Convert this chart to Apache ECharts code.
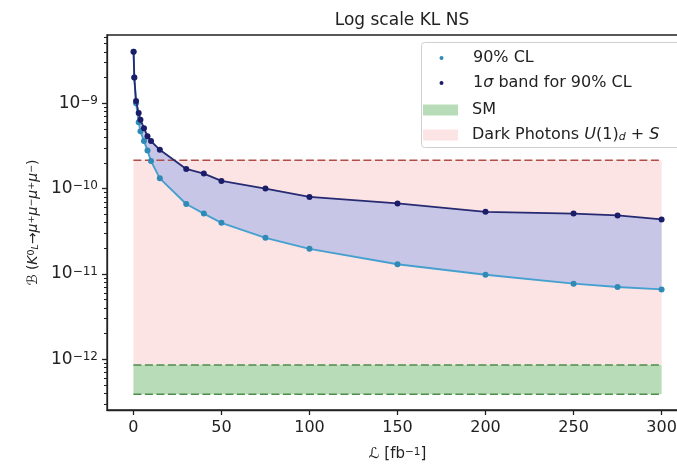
<!DOCTYPE html>
<html>
<head>
<meta charset="utf-8">
<script src="https://cdn.jsdelivr.net/npm/echarts@6/dist/echarts.min.js"></script>
<style>html,body{margin:0;padding:0;background:#fff;}#c{width:677px;height:468px;}</style>
</head>
<body>
<div id="c"></div>
<script>
// ---- data ----
const luminosity = [0.1, 0.5, 1.5, 3, 4, 6, 8, 10, 15, 30, 40, 50, 75, 100, 150, 200, 250, 275, 300];
const cl90 = [4.0e-9, 2.0e-9, 1.0e-9, 6.0e-10, 4.7e-10, 3.6e-10, 2.8e-10, 2.1e-10, 1.32e-10, 6.6e-11, 5.1e-11, 3.97e-11, 2.65e-11, 1.97e-11, 1.3e-11, 9.8e-12, 7.7e-12, 7.05e-12, 6.6e-12];
const band1sigma = [4.0e-9, 2.0e-9, 1.06e-9, 7.7e-10, 6.4e-10, 5.1e-10, 4.1e-10, 3.6e-10, 2.85e-10, 1.7e-10, 1.5e-10, 1.23e-10, 1.0e-10, 8.0e-11, 6.7e-11, 5.35e-11, 5.1e-11, 4.85e-11, 4.35e-11];
const regionX = [0, 300];
const darkPhotonTop = 2.15e-10;
const smTop = 8.6e-13;
const smBottom = 3.9e-13;
const xTicks = [0, 50, 100, 150, 200, 250, 300];
const yTicks = [1e-12, 1e-11, 1e-10, 1e-9];
const xRange = [-15, 315];
const yRange = [2.55e-13, 6.3e-9];
const yMinorTicks = [];
for (let e = -13; e <= -9; e++) for (let m = 2; m <= 9; m++) {
  const v = m * Math.pow(10, e);
  if (v > yRange[0] && v < yRange[1]) yMinorTicks.push(v);
}
const NAME_CL = '90% CL';
const NAME_BAND = '1σ band for 90% CL';
const NAME_SM = 'SM';
const NAME_DP = 'Dark Photons U(1)_d + S';

// ---- styles ----
const FONT = 'DejaVu Sans';
const TXT = '#222';
const cPink = '#fde4e4';
const cGreen = '#b8dcb8';
const cBand = '#c8c6e6';
const cRedDash = '#b24c48';
const cGreenDash = '#4c8c4c';
const cLowLine = '#46a0cf';
const cLowDot = '#2f8bb6';
const cUpLine = '#262a72';
const cUpDot = '#1b1d68';

const pair = (xs, ys) => xs.map((x, i) => [x, ys[i]]);

function rectRender(x0, x1, y0, y1, color) {
  return function (params, api) {
    const a = api.coord([x0, y1]);
    const b = api.coord([x1, y0]);
    return { type: 'rect', shape: { x: a[0], y: a[1], width: b[0] - a[0], height: b[1] - a[1] }, style: { fill: color } };
  };
}

const legendRich = {
  g: { width: 9, fontSize: 16 },
  i: { fontFamily: FONT, fontSize: 16, fontStyle: 'italic', color: TXT },
  n: { fontFamily: FONT, fontSize: 16, color: TXT },
  u: { fontFamily: FONT, fontSize: 11, fontStyle: 'italic', verticalAlign: 'bottom', color: TXT }
};

const chart = echarts.init(document.getElementById('c'), null, { renderer: 'canvas' });
chart.setOption({
  animation: false,
  backgroundColor: '#fff',
  textStyle: { fontFamily: FONT, color: TXT },
  title: {
    text: 'Log scale KL NS', left: 397, top: 7, textAlign: 'center',
    textStyle: { fontFamily: FONT, fontSize: 17, fontWeight: 'normal', color: TXT }
  },
  grid: { left: 107, width: 581, top: 35, bottom: 58, containLabel: false, outerBoundsMode: 'none',
    show: true, borderColor: '#222', borderWidth: 1.3, backgroundColor: 'transparent' },
  xAxis: {
    type: 'value', min: xRange[0], max: xRange[1],
    name: '{i|ℒ} [fb{s|−1}]', nameLocation: 'middle', nameGap: 37,
    nameTextStyle: { fontFamily: FONT, fontSize: 15, color: TXT, rich: {
      i: { fontFamily: FONT, fontSize: 15, fontStyle: 'italic', color: TXT },
      s: { fontFamily: FONT, fontSize: 10.5, verticalAlign: 'top', color: TXT }
    } },
    splitLine: { show: false },
    axisLine: { onZero: false, lineStyle: { color: '#222', width: 1.3 } },
    axisTick: { length: 5, lineStyle: { color: '#222', width: 1.3 }, customValues: xTicks },
    axisLabel: { customValues: xTicks, margin: 10, fontFamily: FONT, fontSize: 16, color: TXT }
  },
  yAxis: [{
    type: 'log', logBase: 10, min: yRange[0], max: yRange[1], position: 'left',
    name: '{i|ℬ} ({i|K}{s|0}{u|L}→{i|μ}{s|+}{i|μ}{s|−}{i|μ}{s|+}{i|μ}{s|−})',
    nameLocation: 'middle', nameGap: 60, nameRotate: 90,
    nameTextStyle: { fontFamily: FONT, fontSize: 14, color: TXT, rich: {
      i: { fontFamily: FONT, fontSize: 14, fontStyle: 'italic', color: TXT },
      s: { fontFamily: FONT, fontSize: 9.5, verticalAlign: 'top', color: TXT },
      u: { fontFamily: FONT, fontSize: 9.5, fontStyle: 'italic', verticalAlign: 'bottom', color: TXT }
    } },
    splitLine: { show: false },
    axisLine: { onZero: false, lineStyle: { color: '#222', width: 1.3 } },
    axisTick: { length: 5, lineStyle: { color: '#222', width: 1.3 }, customValues: yTicks },
    axisLabel: {
      customValues: yTicks, margin: 9,
      formatter: v => '{b|10}{s|−' + (-Math.round(Math.log10(v))) + '}',
      rich: {
        b: { fontFamily: FONT, fontSize: 17, color: TXT },
        s: { fontFamily: FONT, fontSize: 12, verticalAlign: 'top', color: TXT }
      }
    }
  }, {
    type: 'log', logBase: 10, min: yRange[0], max: yRange[1], position: 'left', offset: 0,
    axisLine: { show: false, onZero: false }, splitLine: { show: false },
    axisLabel: { show: false },
    axisTick: { length: 3, lineStyle: { color: '#222', width: 1 }, customValues: yMinorTicks }
  }],
  legend: [{
    orient: 'vertical', left: 423, top: 50, itemWidth: 35, itemHeight: 5, itemGap: 9, padding: 0,
    data: [{ name: NAME_CL, lineStyle: { opacity: 0 } }, { name: NAME_BAND, lineStyle: { opacity: 0 } }],
    formatter: n => n === NAME_BAND ? '{g| }{n|1}{i|σ}{n| band for 90% CL}' : '{g| }{n|' + n + '}',
    textStyle: { fontFamily: FONT, fontSize: 16, color: TXT, rich: legendRich }
  }, {
    orient: 'vertical', left: 423, top: 102, itemWidth: 35, itemHeight: 11, itemGap: 9, padding: 0,
    data: [{ name: NAME_SM, icon: 'rect', itemStyle: { color: cGreen, borderWidth: 0 } },
           { name: NAME_DP, icon: 'rect', itemStyle: { color: cPink, borderWidth: 0 } }],
    formatter: n => n === NAME_DP ? '{g| }{n|Dark Photons }{i|U}{n|(1)}{u|d}{n| + }{i|S}' : '{g| }{n|' + n + '}',
    textStyle: { fontFamily: FONT, fontSize: 16, color: TXT, rich: legendRich }
  }],
  graphic: [{
    type: 'rect', left: 421, top: 42, z: 3,
    shape: { width: 262, height: 105, r: 3 },
    style: { fill: 'rgba(255,255,255,0.85)', stroke: '#cfcfcf', lineWidth: 1 }
  }],
  series: [
    { type: 'custom', name: NAME_DP, z: 1, encode: { x: 0, y: 1 }, data: [[regionX[0], darkPhotonTop]],
      renderItem: rectRender(regionX[0], regionX[1], smTop, darkPhotonTop, cPink) },
    { type: 'custom', name: NAME_SM, z: 1, encode: { x: 0, y: 1 }, data: [[regionX[0], smTop]],
      renderItem: rectRender(regionX[0], regionX[1], smBottom, smTop, cGreen) },
    { type: 'custom', name: 'band', z: 2, encode: { x: 0, y: 1 }, data: [[luminosity[0], cl90[0]]],
      renderItem: function (params, api) {
        const pts = [];
        for (let i = 0; i < luminosity.length; i++) pts.push(api.coord([luminosity[i], band1sigma[i]]));
        for (let i = luminosity.length - 1; i >= 0; i--) pts.push(api.coord([luminosity[i], cl90[i]]));
        return { type: 'polygon', shape: { points: pts }, style: { fill: cBand } };
      } },
    { type: 'line', name: NAME_DP, z: 3, symbol: 'none', data: pair(regionX, [darkPhotonTop, darkPhotonTop]),
      lineStyle: { color: cRedDash, width: 1.6, type: [8, 3.5] }, itemStyle: { color: cPink } },
    { type: 'line', name: NAME_SM, z: 3, symbol: 'none', data: pair(regionX, [smTop, smTop]),
      lineStyle: { color: cGreenDash, width: 1.6, type: [8, 3.5] }, itemStyle: { color: cGreen } },
    { type: 'line', name: NAME_SM, z: 3, symbol: 'none', data: pair(regionX, [smBottom, smBottom]),
      lineStyle: { color: cGreenDash, width: 1.6, type: [8, 3.5] }, itemStyle: { color: cGreen } },
    { type: 'line', name: NAME_CL, z: 4, symbol: 'circle', symbolSize: 6, showAllSymbol: true,
      data: pair(luminosity, cl90), lineStyle: { color: cLowLine, width: 1.9 }, itemStyle: { color: cLowDot } },
    { type: 'line', name: NAME_BAND, z: 5, symbol: 'circle', symbolSize: 6, showAllSymbol: true,
      data: pair(luminosity, band1sigma), lineStyle: { color: cUpLine, width: 1.8 }, itemStyle: { color: cUpDot } }
  ]
});
</script>
</body>
</html>
